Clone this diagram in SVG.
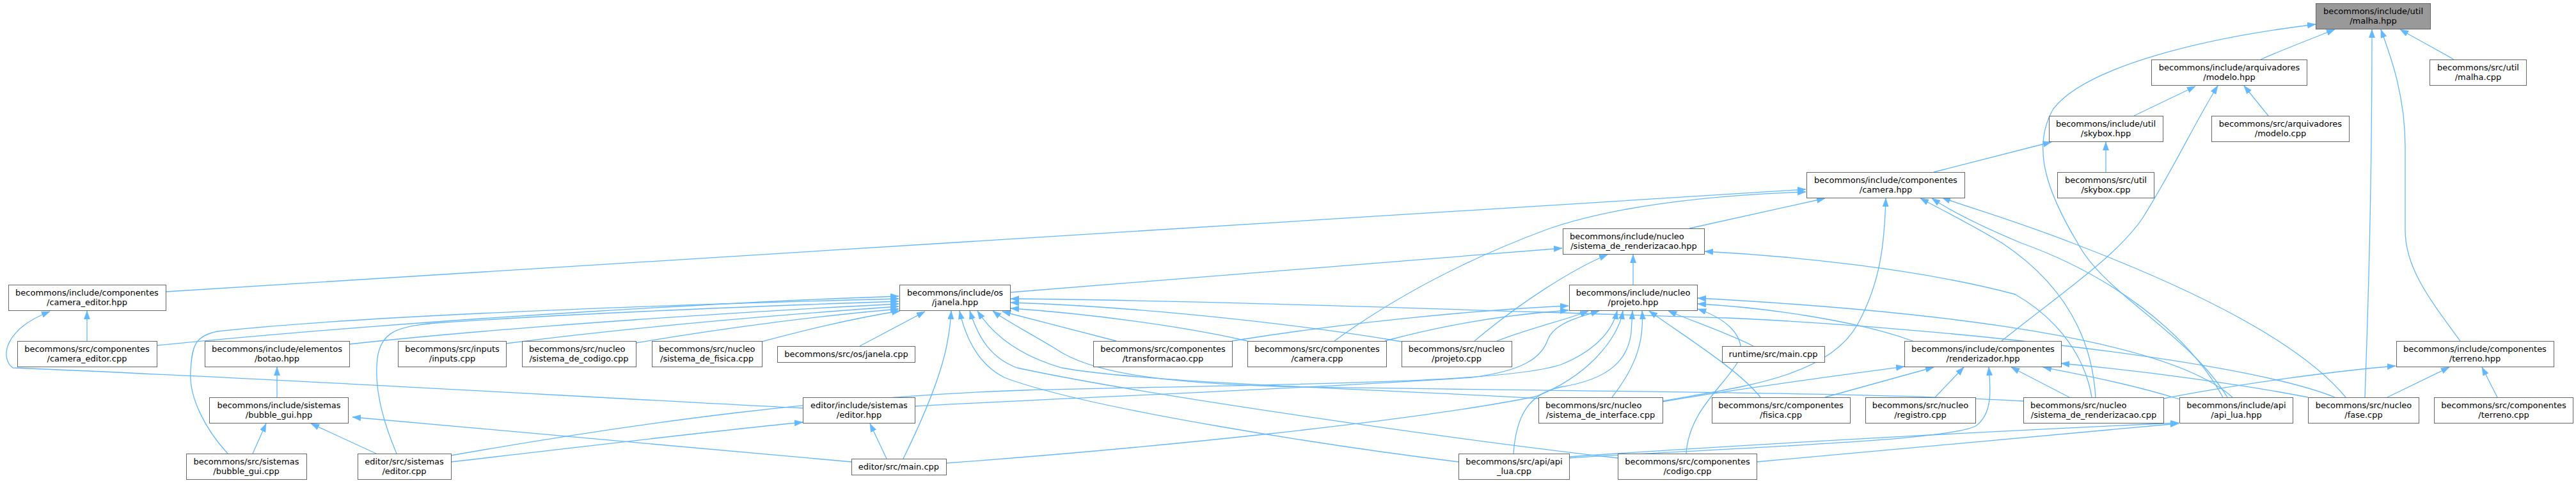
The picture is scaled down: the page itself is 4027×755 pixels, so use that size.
<svg xmlns="http://www.w3.org/2000/svg" width="4027" height="755" viewBox="0 0 4027 755">
<style>
.n rect{fill:#ffffff;stroke:#666666;stroke-width:1}
.root rect{fill:#999999;stroke:#666666;stroke-width:1}
text{font-family:"DejaVu Sans","Liberation Sans",sans-serif;font-size:13px;fill:#000000}
.m{text-anchor:middle}
.s{text-anchor:start}
.e path{fill:none;stroke:#63b8ff;stroke-width:1.3;marker-end:url(#a)}
</style>
<defs>
<marker id="a" markerWidth="14" markerHeight="10" refX="13" refY="4.7" orient="auto" markerUnits="userSpaceOnUse">
<path d="M0,0 L13,4.7 L0,9.4 z" fill="#63b8ff" stroke="#63b8ff" stroke-width="0.5"/>
</marker>
</defs>
<rect width="4027" height="755" fill="#ffffff"/>
<g class="e" id="connectors">
<path d="M3534,93 C3570,77 3610,62 3650,46"/>
<path d="M3836,93 C3810,78 3780,62 3752,46"/>
<path d="M3697,621 C3702,480 3708,300 3708,46"/>
<path d="M3846,533 C3800,470 3760,420 3760,360 L3760,230 C3760,150 3738,90 3722,46"/>
<path d="M3482,621 C3420,520 3290,460 3248,380 C3200,300 3175,230 3210,170 C3260,105 3440,60 3620,38"/>
<path d="M3336,181 L3432,135"/>
<path d="M3546,181 L3508,134"/>
<path d="M3129,533 C3220,460 3310,400 3350,340 C3400,260 3432,190 3467,134"/>
<path d="M3292,269 L3292,222"/>
<path d="M3023,269 L3207,222"/>
<path d="M259,456 C900,415 2300,330 2823,296"/>
<path d="M2086,533 C2200,450 2320,395 2420,358 C2530,320 2680,305 2823,300"/>
<path d="M2641,357 L2853,310"/>
<path d="M2599,627 C2720,605 2860,590 2905,505 C2940,440 2946,380 2948,310"/>
<path d="M3276,621 C3270,520 3220,440 3130,380 C3080,350 3030,325 3002,310"/>
<path d="M3475,621 C3420,520 3300,430 3160,380 C3100,355 3050,330 3020,310"/>
<path d="M3667,621 C3600,540 3450,460 3240,380 C3150,345 3080,325 3036,309"/>
<path d="M1579,457 C1900,430 2200,405 2442,388"/>
<path d="M2553,445 L2553,398"/>
<path d="M2305,533 C2380,470 2460,420 2513,398"/>
<path d="M3270,621 C3260,560 3220,500 3150,460 C3000,420 2800,400 2665,393"/>
<path d="M136,533 L136,486"/>
<path d="M1255,638 C900,620 400,590 20,575 C0,560 5,515 78,487"/>
<path d="M245,540 C700,495 1200,470 1405,463"/>
<path d="M356,709 C320,670 295,620 298,580 C300,540 305,525 340,518 C600,490 1100,475 1405,467"/>
<path d="M620,709 C595,650 585,600 590,560 C595,520 620,510 680,505 C900,490 1200,478 1405,471"/>
<path d="M546,538 C800,510 1200,485 1405,475"/>
<path d="M791,537 C1000,510 1250,490 1405,479"/>
<path d="M994,536 C1150,510 1300,492 1405,483"/>
<path d="M1191,534 C1280,510 1350,495 1407,486"/>
<path d="M1344,541 L1446,487"/>
<path d="M1412,717 C1440,660 1470,590 1480,540 C1484,520 1486,505 1487,486"/>
<path d="M2280,722 C2100,700 1700,640 1570,590 C1530,570 1510,530 1500,486"/>
<path d="M2529,716 C2300,690 1800,620 1590,575 C1550,560 1530,530 1516,486"/>
<path d="M2405,623 C2200,610 1800,600 1660,575 C1590,555 1550,520 1528,486"/>
<path d="M3163,627 C2900,612 2400,612 2000,604 C1800,598 1700,580 1650,545 C1600,515 1570,500 1552,486"/>
<path d="M1745,533 L1567,487"/>
<path d="M2191,534 C2050,510 1800,480 1580,473"/>
<path d="M1950,533 C1850,510 1700,490 1580,482"/>
<path d="M3650,621 C3500,560 3000,510 2700,497 C2300,485 1900,470 1580,467"/>
<path d="M1926,533 C2100,505 2300,485 2452,478"/>
<path d="M2165,533 C2250,510 2350,492 2452,485"/>
<path d="M2340,533 C2400,510 2450,500 2483,486"/>
<path d="M1430,635 C1700,620 2000,610 2300,590 C2380,580 2410,560 2420,530 C2430,505 2470,495 2500,486"/>
<path d="M705,712 C1000,660 1300,620 1600,610 C2000,600 2350,600 2440,570 C2490,550 2520,520 2528,486"/>
<path d="M1479,724 C1800,700 2200,660 2400,620 C2480,590 2530,530 2537,486"/>
<path d="M2366,709 C2370,650 2390,615 2440,605 C2520,592 2545,560 2550,520 L2552,486"/>
<path d="M2520,621 C2560,570 2570,530 2567,486"/>
<path d="M2752,621 C2720,580 2640,530 2578,486"/>
<path d="M2741,541 C2700,520 2640,500 2608,486"/>
<path d="M3490,621 C3400,540 3100,490 2654,466"/>
<path d="M2990,533 C2900,500 2750,480 2654,475"/>
<path d="M2636,709 C2640,640 2700,600 2720,560 C2730,520 2690,495 2654,483"/>
<path d="M2599,628 C2700,610 2850,590 2977,573"/>
<path d="M2853,621 L3023,574"/>
<path d="M3025,621 L3070,574"/>
<path d="M2453,716 C2700,700 3050,690 3090,665 C3115,645 3112,610 3109,574"/>
<path d="M3235,621 L3144,574"/>
<path d="M3407,624 C3330,600 3250,585 3194,574"/>
<path d="M3608,621 C3500,600 3350,580 3222,568"/>
<path d="M2453,714 C2800,690 3200,670 3406,661"/>
<path d="M2746,722 C3000,700 3250,675 3406,662"/>
<path d="M3732,621 L3829,574"/>
<path d="M3904,621 L3880,574"/>
<path d="M3382,623 C3500,600 3650,580 3745,572"/>
<path d="M395,709 L416,662"/>
<path d="M588,709 L486,662"/>
<path d="M1331,722 C1000,690 700,665 551,652"/>
<path d="M433,621 L433,574"/>
<path d="M1386,717 L1360,662"/>
<path d="M705,722 C900,700 1100,675 1255,660"/>
</g>
<g id="malha_hpp" class="root"><rect x="3620.5" y="5.5" width="179" height="40"/><text class="m" x="3710" y="22">becommons/include/util</text><text class="m" x="3710" y="37">/malha.hpp</text></g>
<g id="modelo_hpp" class="n"><rect x="3363.5" y="93.5" width="243" height="40"/><text class="m" x="3485" y="110">becommons/include/arquivadores</text><text class="m" x="3485" y="125">/modelo.hpp</text></g>
<g id="malha_cpp" class="n"><rect x="3798.5" y="93.5" width="151" height="40"/><text class="m" x="3874" y="110">becommons/src/util</text><text class="m" x="3874" y="125">/malha.cpp</text></g>
<g id="skybox_hpp" class="n"><rect x="3203.5" y="181.5" width="178" height="40"/><text class="m" x="3292" y="198">becommons/include/util</text><text class="m" x="3292" y="213">/skybox.hpp</text></g>
<g id="modelo_cpp" class="n"><rect x="3457.5" y="181.5" width="215" height="40"/><text class="m" x="3565" y="198">becommons/src/arquivadores</text><text class="m" x="3565" y="213">/modelo.cpp</text></g>
<g id="camera_hpp" class="n"><rect x="2824.5" y="269.5" width="247" height="40"/><text class="m" x="2948" y="286">becommons/include/componentes</text><text class="m" x="2948" y="301">/camera.hpp</text></g>
<g id="skybox_cpp" class="n"><rect x="3216.5" y="269.5" width="151" height="40"/><text class="m" x="3292" y="286">becommons/src/util</text><text class="m" x="3292" y="301">/skybox.cpp</text></g>
<g id="sistema_de_renderizacao_hpp" class="n"><rect x="2443.5" y="357.5" width="221" height="40"/><text class="s" x="2454" y="374">becommons/include/nucleo</text><text class="m" x="2554" y="389">/sistema_de_renderizacao.hpp</text></g>
<g id="camera_editor_hpp" class="n"><rect x="13.5" y="445.5" width="246" height="40"/><text class="m" x="136" y="462">becommons/include/componentes</text><text class="m" x="136" y="477">/camera_editor.hpp</text></g>
<g id="janela_hpp" class="n"><rect x="1406.5" y="445.5" width="173" height="40"/><text class="m" x="1493" y="462">becommons/include/os</text><text class="m" x="1493" y="477">/janela.hpp</text></g>
<g id="projeto_hpp" class="n"><rect x="2453.5" y="445.5" width="200" height="40"/><text class="m" x="2553" y="462">becommons/include/nucleo</text><text class="m" x="2553" y="477">/projeto.hpp</text></g>
<g id="camera_editor_cpp" class="n"><rect x="27.5" y="533.5" width="218" height="40"/><text class="m" x="136" y="550">becommons/src/componentes</text><text class="m" x="136" y="565">/camera_editor.cpp</text></g>
<g id="botao_hpp" class="n"><rect x="320.5" y="533.5" width="226" height="40"/><text class="m" x="433" y="550">becommons/include/elementos</text><text class="m" x="433" y="565">/botao.hpp</text></g>
<g id="inputs_cpp" class="n"><rect x="622.5" y="533.5" width="169" height="40"/><text class="m" x="707" y="550">becommons/src/inputs</text><text class="m" x="707" y="565">/inputs.cpp</text></g>
<g id="sistema_de_codigo_cpp" class="n"><rect x="816.5" y="533.5" width="178" height="40"/><text class="s" x="827" y="550">becommons/src/nucleo</text><text class="m" x="905" y="565">/sistema_de_codigo.cpp</text></g>
<g id="sistema_de_fisica_cpp" class="n"><rect x="1019.5" y="533.5" width="172" height="40"/><text class="s" x="1030" y="550">becommons/src/nucleo</text><text class="m" x="1105" y="565">/sistema_de_fisica.cpp</text></g>
<g id="janela_cpp" class="n"><rect x="1215.5" y="541.5" width="215" height="25"/><text class="m" x="1323" y="558">becommons/src/os/janela.cpp</text></g>
<g id="transformacao_cpp" class="n"><rect x="1709.5" y="533.5" width="217" height="40"/><text class="m" x="1818" y="550">becommons/src/componentes</text><text class="m" x="1818" y="565">/transformacao.cpp</text></g>
<g id="camera_cpp" class="n"><rect x="1950.5" y="533.5" width="217" height="40"/><text class="m" x="2059" y="550">becommons/src/componentes</text><text class="m" x="2059" y="565">/camera.cpp</text></g>
<g id="projeto_cpp" class="n"><rect x="2191.5" y="533.5" width="172" height="40"/><text class="m" x="2277" y="550">becommons/src/nucleo</text><text class="m" x="2277" y="565">/projeto.cpp</text></g>
<g id="runtime_main_cpp" class="n"><rect x="2692.5" y="541.5" width="160" height="25"/><text class="m" x="2772" y="558">runtime/src/main.cpp</text></g>
<g id="renderizador_hpp" class="n"><rect x="2977.5" y="533.5" width="245" height="40"/><text class="m" x="3100" y="550">becommons/include/componentes</text><text class="m" x="3100" y="565">/renderizador.hpp</text></g>
<g id="terreno_hpp" class="n"><rect x="3746.5" y="533.5" width="246" height="40"/><text class="m" x="3869" y="550">becommons/include/componentes</text><text class="m" x="3869" y="565">/terreno.hpp</text></g>
<g id="bubble_gui_hpp" class="n"><rect x="327.5" y="621.5" width="217" height="40"/><text class="m" x="436" y="638">becommons/include/sistemas</text><text class="m" x="436" y="653">/bubble_gui.hpp</text></g>
<g id="editor_hpp" class="n"><rect x="1255.5" y="621.5" width="175" height="40"/><text class="m" x="1343" y="638">editor/include/sistemas</text><text class="m" x="1343" y="653">/editor.hpp</text></g>
<g id="sistema_de_interface_cpp" class="n"><rect x="2405.5" y="621.5" width="194" height="40"/><text class="s" x="2416" y="638">becommons/src/nucleo</text><text class="m" x="2502" y="653">/sistema_de_interface.cpp</text></g>
<g id="fisica_cpp" class="n"><rect x="2676.5" y="621.5" width="216" height="40"/><text class="m" x="2784" y="638">becommons/src/componentes</text><text class="m" x="2784" y="653">/fisica.cpp</text></g>
<g id="registro_cpp" class="n"><rect x="2916.5" y="621.5" width="172" height="40"/><text class="m" x="3002" y="638">becommons/src/nucleo</text><text class="m" x="3002" y="653">/registro.cpp</text></g>
<g id="sistema_de_renderizacao_cpp" class="n"><rect x="3163.5" y="621.5" width="219" height="40"/><text class="s" x="3174" y="638">becommons/src/nucleo</text><text class="m" x="3273" y="653">/sistema_de_renderizacao.cpp</text></g>
<g id="api_lua_hpp" class="n"><rect x="3407.5" y="621.5" width="177" height="40"/><text class="m" x="3496" y="638">becommons/include/api</text><text class="m" x="3496" y="653">/api_lua.hpp</text></g>
<g id="fase_cpp" class="n"><rect x="3608.5" y="621.5" width="173" height="40"/><text class="m" x="3695" y="638">becommons/src/nucleo</text><text class="m" x="3695" y="653">/fase.cpp</text></g>
<g id="terreno_cpp" class="n"><rect x="3805.5" y="621.5" width="217" height="40"/><text class="m" x="3914" y="638">becommons/src/componentes</text><text class="m" x="3914" y="653">/terreno.cpp</text></g>
<g id="bubble_gui_cpp" class="n"><rect x="291.5" y="709.5" width="188" height="40"/><text class="m" x="385" y="726">becommons/src/sistemas</text><text class="m" x="385" y="741">/bubble_gui.cpp</text></g>
<g id="editor_cpp" class="n"><rect x="559.5" y="709.5" width="146" height="40"/><text class="m" x="632" y="726">editor/src/sistemas</text><text class="m" x="632" y="741">/editor.cpp</text></g>
<g id="editor_main_cpp" class="n"><rect x="1331.5" y="717.5" width="148" height="25"/><text class="m" x="1405" y="734">editor/src/main.cpp</text></g>
<g id="api_lua_cpp" class="n"><rect x="2280.5" y="709.5" width="173" height="40"/><text class="m" x="2367" y="726">becommons/src/api/api</text><text class="m" x="2367" y="741">_lua.cpp</text></g>
<g id="codigo_cpp" class="n"><rect x="2529.5" y="709.5" width="217" height="40"/><text class="m" x="2638" y="726">becommons/src/componentes</text><text class="m" x="2638" y="741">/codigo.cpp</text></g>
</svg>
